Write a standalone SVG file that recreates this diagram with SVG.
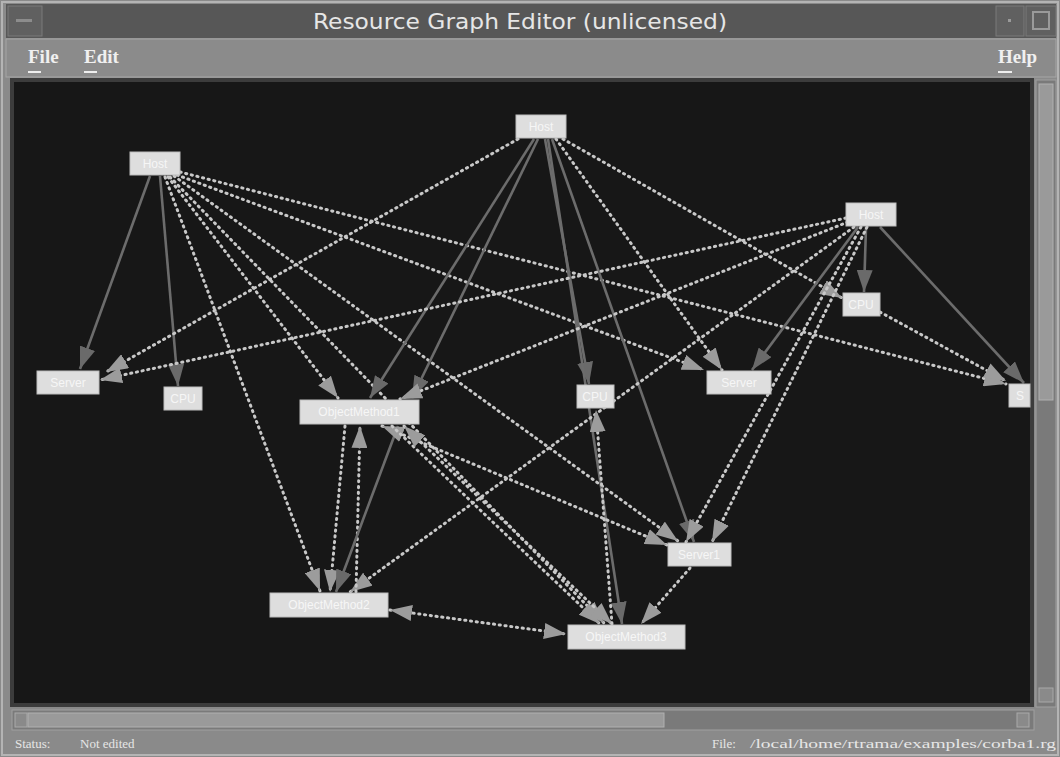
<svg xmlns="http://www.w3.org/2000/svg" width="1060" height="757" viewBox="0 0 1060 757">
  <defs>
    <style>
      .ui { font-family: "DejaVu Sans Condensed", "Liberation Sans", sans-serif; fill: #e6e6e6; }
      .menu { font-family: "Liberation Serif", serif; font-weight: bold; font-size: 19px; fill: #f0f0f0; }
      .status { font-family: "Liberation Serif", serif; font-size: 13px; fill: #e6e6e6; }
      .node rect { fill: #dedede; stroke: #bdbdbd; stroke-width: 1; }
      .node text { font-family: "Liberation Sans", sans-serif; font-size: 12px; fill: #f6f6f6; text-anchor: middle; }
      .solid { stroke: #6c6c6c; stroke-width: 2.6; fill: none; marker-end: url(#sa); }
      .dot { stroke: #c8c8c8; stroke-width: 3; fill: none; stroke-dasharray: 1.2 4.6; stroke-linecap: round; marker-end: url(#da); }
      .both { marker-start: url(#da); }
    </style>
    <marker id="sa" viewBox="0 0 22 16" refX="22" refY="8" markerWidth="22" markerHeight="16" markerUnits="userSpaceOnUse" orient="auto-start-reverse">
      <path d="M0,0 L22,8 L0,16 z" fill="#6a6a6a"/>
    </marker>
    <marker id="da" viewBox="0 0 22 16" refX="22" refY="8" markerWidth="22" markerHeight="16" markerUnits="userSpaceOnUse" orient="auto-start-reverse">
      <path d="M0,0 L22,8 L0,16 z" fill="#9c9c9c"/>
    </marker>
  </defs>

  <!-- window frame -->
  <rect x="0" y="0" width="1060" height="757" fill="#8a8a8a"/>
  <rect x="2" y="2" width="1056" height="753" fill="none" stroke="#b4b4b4" stroke-width="2"/>

  <!-- title bar -->
  <rect x="6" y="4" width="1050" height="34" fill="#575757"/>
  <rect x="8" y="6" width="34" height="30" fill="#606060" stroke="#7a7a7a"/>
  <rect x="16" y="19" width="16" height="3" fill="#8c8c8c"/>
  <rect x="996" y="6" width="28" height="30" fill="#606060" stroke="#7a7a7a"/>
  <rect x="1008" y="19" width="3" height="3" fill="#9a9a9a"/>
  <rect x="1026" y="6" width="30" height="30" fill="#606060" stroke="#7a7a7a"/>
  <rect x="1033" y="12" width="16" height="17" fill="none" stroke="#9a9a9a" stroke-width="2"/>
  <text class="ui" x="520" y="29" font-size="21" text-anchor="middle" textLength="414" lengthAdjust="spacingAndGlyphs">Resource Graph Editor (unlicensed)</text>

  <!-- menu bar -->
  <rect x="6" y="39" width="1050" height="38" fill="#8b8b8b" stroke="#a6a6a6"/>
  <text class="menu" x="28" y="63">File</text>
  <rect x="28" y="71" width="13" height="2" fill="#eeeeee"/>
  <text class="menu" x="84" y="63">Edit</text>
  <rect x="84" y="71" width="13" height="2" fill="#eeeeee"/>
  <text class="menu" x="998" y="63">Help</text>
  <rect x="998" y="71" width="14" height="2" fill="#eeeeee"/>

  <!-- canvas -->
  <rect x="10" y="78" width="1024" height="629" fill="#3c3c3c"/>
  <rect x="14" y="82" width="1016" height="621" fill="#171717"/>

  <!-- vertical scrollbar -->
  <rect x="1036" y="80" width="20" height="627" fill="#7a7a7a" stroke="#a0a0a0"/>
  <rect x="1039" y="84" width="14" height="316" fill="#9a9a9a" stroke="#b0b0b0"/>
  <rect x="1039" y="688" width="14" height="14" fill="#8a8a8a" stroke="#a8a8a8"/>

  <!-- horizontal scrollbar -->
  <rect x="12" y="710" width="1022" height="20" fill="#7a7a7a" stroke="#a0a0a0"/>
  <rect x="15" y="713" width="12" height="14" fill="#8a8a8a" stroke="#aaaaaa"/>
  <rect x="28" y="713" width="636" height="14" fill="#9a9a9a" stroke="#b0b0b0"/>
  <rect x="1017" y="713" width="12" height="14" fill="#8a8a8a" stroke="#aaaaaa"/>

  <!-- status line -->
  <text class="status" x="15" y="748">Status:</text>
  <text class="status" x="80" y="748">Not edited</text>
  <text class="status" x="712" y="748">File:</text>
  <text class="status" x="750" y="748" textLength="306" lengthAdjust="spacingAndGlyphs">/local/home/rtrama/examples/corba1.rg</text>

  <!-- connectors -->
  <g id="connectors">
    <!-- left host -->
    <line class="solid" x1="150" y1="176" x2="80" y2="369"/>
    <line class="solid" x1="160" y1="176" x2="178" y2="386"/>
    <line class="dot" x1="165" y1="177" x2="320" y2="591"/>
    <line class="dot" x1="168" y1="177" x2="338" y2="398"/>
    <line class="dot" x1="170" y1="177" x2="604" y2="623"/>
    <line class="dot" x1="174" y1="176" x2="678" y2="541"/>
    <line class="dot" x1="177" y1="175" x2="704" y2="370"/>
    <line class="dot" x1="180" y1="172" x2="1006" y2="384"/>
    <!-- top host -->
    <line class="dot" x1="518" y1="139" x2="106" y2="372"/>
    <line class="solid" x1="534" y1="139" x2="370" y2="398"/>
    <line class="solid" x1="538" y1="139" x2="412" y2="398"/>
    <line class="solid" x1="545" y1="139" x2="589" y2="384"/>
    <line class="solid" x1="548" y1="139" x2="622" y2="624"/>
    <line class="solid" x1="552" y1="139" x2="694" y2="542"/>
    <line class="dot" x1="556" y1="139" x2="722" y2="370"/>
    <line class="dot" x1="563" y1="139" x2="842" y2="298"/>
    <!-- right host -->
    <line class="solid" x1="866" y1="227" x2="864" y2="292"/>
    <line class="solid" x1="880" y1="227" x2="1024" y2="383"/>
    <line class="solid" x1="858" y1="227" x2="752" y2="370"/>
    <line class="dot" x1="846" y1="218" x2="100" y2="380"/>
    <line class="dot" x1="848" y1="222" x2="400" y2="399"/>
    <line class="dot" x1="854" y1="227" x2="350" y2="592"/>
    <line class="dot" x1="861" y1="227" x2="686" y2="542"/>
    <line class="dot" x1="867" y1="227" x2="712" y2="542"/>
    <line class="dot" x1="880" y1="312" x2="1006" y2="381"/>
    <!-- object methods and servers -->
    <line class="dot" x1="345" y1="426" x2="330" y2="592"/>
    <line class="dot" x1="356" y1="592" x2="360" y2="426"/>
    <line class="solid" x1="398" y1="426" x2="336" y2="592"/>
    <line class="dot both" x1="382" y1="426" x2="667" y2="545"/>
    <line class="dot" x1="392" y1="426" x2="600" y2="624"/>
    <line class="dot both" x1="404" y1="426" x2="612" y2="624"/>
    <line class="dot both" x1="390" y1="610" x2="566" y2="634"/>
    <line class="dot" x1="690" y1="568" x2="641" y2="624"/>
    <line class="dot" x1="612" y1="624" x2="596" y2="410"/>
  </g>

  <!-- nodes -->
  <g id="host-top" class="node"><rect x="516" y="115" width="50" height="23"/><text x="541" y="131">Host</text></g>
  <g id="host-left" class="node"><rect x="130" y="152" width="50" height="23"/><text x="155" y="168">Host</text></g>
  <g id="host-right" class="node"><rect x="846" y="203" width="50" height="23"/><text x="871" y="219">Host</text></g>
  <g id="cpu-right" class="node"><rect x="843" y="293" width="37" height="23"/><text x="861" y="309">CPU</text></g>
  <g id="server-edge" class="node"><rect x="1009" y="384" width="21" height="23"/><text x="1020" y="400">S</text></g>
  <g id="server-left" class="node"><rect x="37" y="371" width="62" height="23"/><text x="68" y="387">Server</text></g>
  <g id="cpu-left" class="node"><rect x="164" y="387" width="38" height="23"/><text x="183" y="403">CPU</text></g>
  <g id="objmethod1" class="node"><rect x="300" y="400" width="119" height="24"/><text x="359" y="416">ObjectMethod1</text></g>
  <g id="cpu-mid" class="node"><rect x="577" y="385" width="37" height="23"/><text x="595" y="401">CPU</text></g>
  <g id="server-mid" class="node"><rect x="707" y="371" width="64" height="23"/><text x="739" y="387">Server</text></g>
  <g id="server1" class="node"><rect x="668" y="543" width="63" height="23"/><text x="699" y="559">Server1</text></g>
  <g id="objmethod2" class="node"><rect x="270" y="593" width="118" height="24"/><text x="329" y="609">ObjectMethod2</text></g>
  <g id="objmethod3" class="node"><rect x="568" y="625" width="117" height="24"/><text x="626" y="641">ObjectMethod3</text></g>
</svg>
